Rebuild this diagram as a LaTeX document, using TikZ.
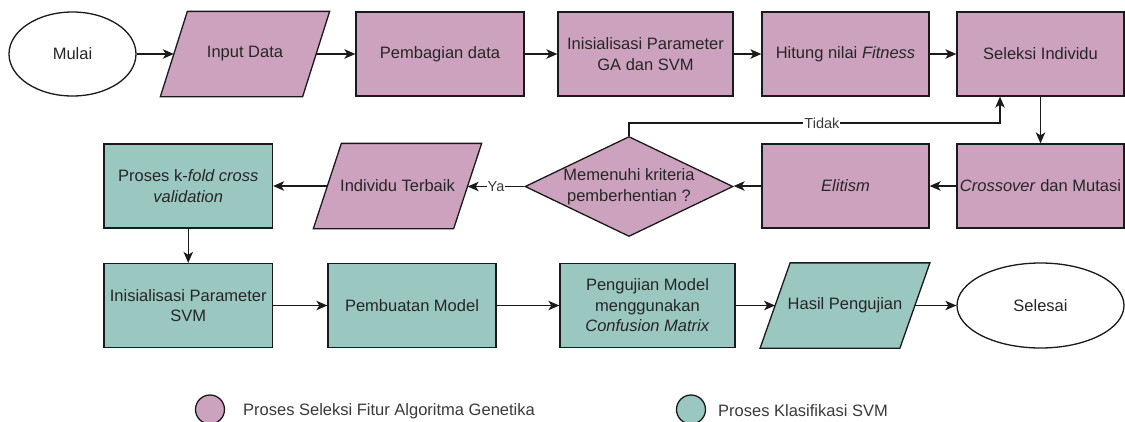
\documentclass[tikz,border=0pt]{standalone}
\usepackage{fontspec}
\setmainfont{Liberation Sans}
\usetikzlibrary{shapes.geometric,arrows.meta,calc}
\definecolor{ga}{HTML}{CDA2BE}
\definecolor{svm}{HTML}{9AC7BF}
\definecolor{edgec}{HTML}{1A1A1A}
\definecolor{txt}{HTML}{262626}
\definecolor{lbltxt}{HTML}{3A3A3A}
\pgfdeclarelayer{bg}
\pgfsetlayers{bg,main}
\begin{document}
\begin{tikzpicture}[x=1pt,y=-1pt,
  base/.style={draw=edgec, line width=1.3pt, inner sep=0pt, text=txt, align=center,
    font=\fontsize{16.5}{20.5}\selectfont},
  gabox/.style={base, rectangle, fill=ga, minimum height=84},
  svmbox/.style={base, rectangle, fill=svm, minimum height=84},
  paratext/.style={base, rectangle, draw=none, minimum height=84, minimum width=#1},
  parashape/.style={draw=edgec, line width=1.3pt, line join=miter, fill=#1},
  term/.style={base, ellipse, fill=white},
  decision/.style={base, diamond, fill=ga, minimum width=208, minimum height=100, aspect=2.08},
  arr/.style={draw=edgec, line width=1.3pt, -{Stealth[length=11pt,width=9.5pt,inset=3pt]}},
  lbl/.style={fill=white, inner sep=1pt, text=lbltxt, font=\fontsize{14.5}{16}\selectfont},
  legtxt/.style={anchor=west, inner sep=0pt, text=lbltxt, font=\fontsize{16.5}{20}\selectfont},
  legdot/.style={draw=edgec, line width=1.3pt, circle, minimum size=29, inner sep=0pt}
]
\begin{pgfonlayer}{bg}
\fill[white] (0,0) rectangle (1125,421);
\end{pgfonlayer}
\useasboundingbox (0,0) rectangle (1125,421);

% row 1
\node[term, minimum width=127, minimum height=84] (mulai) at (72.5,54) {Mulai};
\node[paratext=141] (input) at (245,54) {Input Data};
\node[gabox, minimum width=168] (pemb) at (440,54) {Pembagian data};
\node[gabox, minimum width=175] (initga) at (645.5,54) {Inisialisasi Parameter\\GA dan SVM};
\node[gabox, minimum width=167] (hitung) at (845.5,54) {Hitung nilai \textit{Fitness}};
\node[gabox, minimum width=167] (seleksi) at (1040.5,54) {Seleksi Individu};

% row 2
\node[gabox, minimum width=167] (cross) at (1040.5,186) {\textit{Crossover} dan Mutasi};
\node[gabox, minimum width=167] (elit) at (845.5,186) {\textit{Elitism}};
\node[decision] (dec) at (629,186.5) {Memenuhi kriteria\\pemberhentian ?};
\node[paratext=139] (indiv) at (397.5,186) {Individu Terbaik};
\node[svmbox, minimum width=168.5] (kfold) at (188.25,186) {Proses k-\textit{fold cross}\\\textit{validation}};

% row 3
\node[svmbox, minimum width=168.5] (initsvm) at (188.25,305.5) {Inisialisasi Parameter\\SVM};
\node[svmbox, minimum width=168] (model) at (412,305.5) {Pembuatan Model};
\node[svmbox, minimum width=175] (uji) at (647.5,305.5) {Pengujian Model\\menggunakan\\\textit{Confusion Matrix}};
\node[paratext=138.5] (hasil) at (845,305.5) {Hasil Pengujian};
\node[term, minimum width=167, minimum height=85] (selesai) at (1040.5,305.5) {Selesai};

% parallelogram outlines (behind their text)
\begin{pgfonlayer}{bg}
\draw[parashape=ga] ($(input.south west)+(-13.5,0)$) -- ($(input.south east)+(-13.5,0)$)
  -- ($(input.north east)+(13.5,0)$) -- ($(input.north west)+(13.5,0)$) -- cycle;
\draw[parashape=ga] ($(indiv.south west)+(-14,0)$) -- ($(indiv.south east)+(-14,0)$)
  -- ($(indiv.north east)+(14,0)$) -- ($(indiv.north west)+(14,0)$) -- cycle;
\draw[parashape=svm] ($(hasil.south west)+(-15,0)$) -- ($(hasil.south east)+(-15,0)$)
  -- ($(hasil.north east)+(15,0)$) -- ($(hasil.north west)+(15,0)$) -- cycle;
\end{pgfonlayer}

% connectors
\draw[arr] (mulai) -- (input);
\draw[arr] (input) -- (pemb);
\draw[arr] (pemb) -- (initga);
\draw[arr] (initga) -- (hitung);
\draw[arr] (hitung) -- (seleksi);
\draw[arr] (seleksi) -- (cross);
\draw[arr] (cross) -- (elit);
\draw[arr] (elit.west) -- (elit.west -| dec.east);
\draw[arr] (dec.west) -- node[lbl] {Ya} (dec.west -| indiv.east);
\draw[arr] (indiv) -- (kfold);
\draw[arr] (kfold) -- (initsvm);
\draw[arr] (initsvm) -- (model);
\draw[arr] (model) -- (uji);
\draw[arr] (uji) -- (hasil);
\draw[arr] (hasil) -- (selesai);
\coordinate (tk) at (1000,123);
\draw[arr] (dec.north) |- node[lbl, pos=0.76] {Tidak} (tk) -- (tk |- seleksi.south);

% legend
\node[legdot, fill=ga] (lg1) at (210,409.5) {};
\node[legtxt] (lt1) at (243,411) {Proses Seleksi Fitur Algoritma Genetika};
\node[legdot, fill=svm] (lg2) at (691,409.5) {};
\node[legtxt] (lt2) at (718,411) {Proses Klasifikasi SVM};
\end{tikzpicture}
\end{document}
